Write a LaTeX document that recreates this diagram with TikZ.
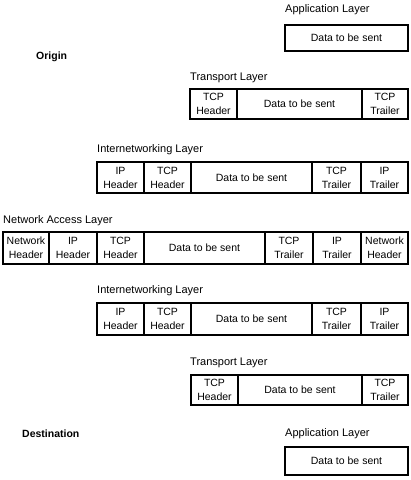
\documentclass[tikz,border=0pt]{standalone}
\usepackage{fontspec}
\setmainfont{Liberation Sans}
\newcommand{\cellbox}[6]{%
  \node[cell, minimum width={(#3-#2)*1pt}, minimum height={(#5-#4)*1pt}] (#1) at ({(#2+#3)/2},{(#4+#5)/2}) {#6};}
\begin{document}
\begin{tikzpicture}[x=1pt,y=-1pt,
  cell/.style={draw, line width=2pt, inner sep=0pt, align=center, font=\fontsize{10.5}{14}\selectfont},
  lbl/.style={anchor=west, inner sep=0pt, font=\fontsize{11}{13}\selectfont},
  side/.style={anchor=west, inner sep=0pt, font=\fontsize{10.5}{13}\selectfont\bfseries}]
\useasboundingbox (0,0) rectangle (411,480);
% Origin side
\node[lbl] (appL1) at (285,10) {Application Layer};
\cellbox{app1}{285}{408}{25}{51}{Data to be sent}
\node[side] (origin) at (36,57) {Origin};
\node[lbl] (trL1) at (190,78) {Transport Layer};
\cellbox{tr1a}{190}{237}{89}{119}{TCP\\Header}
\cellbox{tr1b}{237}{362}{89}{119}{Data to be sent}
\cellbox{tr1c}{362}{408}{89}{119}{TCP\\Trailer}
\node[lbl] (inL1) at (97,150) {Internetworking Layer};
\cellbox{in1a}{97}{144}{162}{193}{IP\\Header}
\cellbox{in1b}{144}{191}{162}{193}{TCP\\Header}
\cellbox{in1c}{191}{312}{162}{193}{Data to be sent}
\cellbox{in1d}{312}{361}{162}{193}{TCP\\Trailer}
\cellbox{in1e}{361}{408}{162}{193}{IP\\Trailer}
% Network access
\node[lbl] (naL) at (3,221) {Network Access Layer};
\cellbox{naa}{3}{49}{232}{264}{Network\\Header}
\cellbox{nab}{49}{97}{232}{264}{IP\\Header}
\cellbox{nac}{97}{144}{232}{264}{TCP\\Header}
\cellbox{nad}{144}{265}{232}{264}{Data to be sent}
\cellbox{nae}{265}{313}{232}{264}{TCP\\Trailer}
\cellbox{naf}{313}{361}{232}{264}{IP\\Trailer}
\cellbox{nag}{361}{408}{232}{264}{Network\\Header}
% Destination side
\node[lbl] (inL2) at (97,291) {Internetworking Layer};
\cellbox{in2a}{97}{144}{303}{335}{IP\\Header}
\cellbox{in2b}{144}{191}{303}{335}{TCP\\Header}
\cellbox{in2c}{191}{312}{303}{335}{Data to be sent}
\cellbox{in2d}{312}{361}{303}{335}{TCP\\Trailer}
\cellbox{in2e}{361}{408}{303}{335}{IP\\Trailer}
\node[lbl] (trL2) at (190,363) {Transport Layer};
\cellbox{tr2a}{191}{238}{375}{405}{TCP\\Header}
\cellbox{tr2b}{238}{362}{375}{405}{Data to be sent}
\cellbox{tr2c}{362}{408}{375}{405}{TCP\\Trailer}
\node[side] (dest) at (22,434) {Destination};
\node[lbl] (appL2) at (285,434) {Application Layer};
\cellbox{app2}{285}{408}{447}{475}{Data to be sent}
\end{tikzpicture}
\end{document}
